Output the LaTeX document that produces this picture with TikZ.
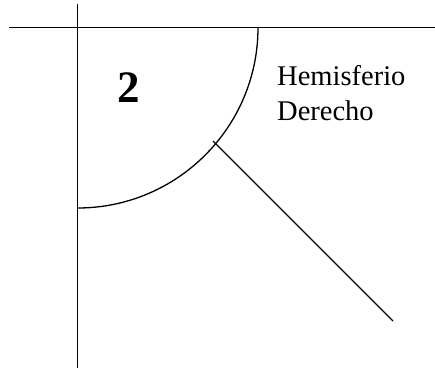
\documentclass[tikz,border=0pt]{standalone}
\usepackage{fontspec}
\setmainfont{Liberation Serif}
\begin{document}
\begin{tikzpicture}[x=1pt, y=-1pt,
  axis/.style={line width=1.7pt},
  curve/.style={line width=1.3pt},
  label/.style={font=\fontsize{28.5}{34}\selectfont, inner sep=0pt, anchor=base west},
  num/.style={font=\fontsize{45}{50}\selectfont\bfseries, inner sep=0pt, anchor=base},
]
\useasboundingbox (0,0) rectangle (435,368);

% crossing axes
\coordinate (O)  at (77.5,27.5);
\coordinate (hl) at (9,27.5);
\coordinate (hr) at (435,27.5);
\coordinate (vt) at (77.5,4);
\coordinate (vb) at (77.5,368);
\draw[axis] (hl) -- (hr);
\draw[axis] (vt) -- (vb);

% quarter circle and the diagonal
\coordinate (arcstart) at (258,27.5);
\draw[curve] (arcstart) arc[start angle=0, end angle=90, radius=180.5];
\coordinate (d1) at (213,141);
\coordinate (d2) at (393,321);
\draw[curve] (d1) -- (d2);

% texts
\node[num] (two) at (128.5,102) {2};
\node[label] (hemi) at (277,85) {Hemisferio};
\node[label] (der) at (277,120) {Derecho};

\end{tikzpicture}
\end{document}
